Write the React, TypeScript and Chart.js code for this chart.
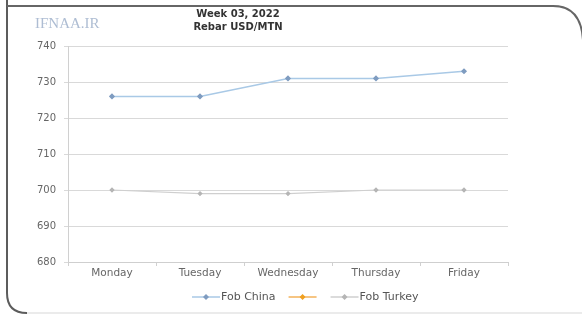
import React, { useEffect, useRef } from "react";
import { Chart, registerables } from "chart.js";

Chart.register(...registerables);

const categories = ["Monday", "Tuesday", "Wednesday", "Thursday", "Friday"];
const fobChina = [726, 726, 731, 731, 733];
const fobOther: (number | null)[] = [null, null, null, null, null];
const fobTurkey = [700, 699, 699, 700, 700];
const seriesNames = ["Fob China", "", "Fob Turkey"];
const titleLines = ["Week 03, 2022", "Rebar USD/MTN"];
const watermark = "IFNAA.IR";
const yMin = 680;
const yMax = 740;
const yStep = 10;

const decorPlugin = {
  id: "decor",
  afterDraw(chart: any) {
    const ctx = chart.ctx as CanvasRenderingContext2D;
    ctx.save();
    // watermark
    ctx.font = "15px 'Liberation Serif'";
    ctx.fillStyle = "#aebdd3";
    ctx.textAlign = "left";
    ctx.textBaseline = "middle";
    ctx.fillText(watermark, 35, 24);
    // title
    ctx.font = "bold 10px 'DejaVu Sans'";
    ctx.fillStyle = "#333333";
    ctx.textAlign = "center";
    ctx.fillText(titleLines[0], 238, 14);
    ctx.fillText(titleLines[1], 238, 27);
    // legend
    ctx.font = "11px 'DejaVu Sans'";
    ctx.textAlign = "left";
    const y = 297;
    let x = 192;
    chart.data.datasets.forEach((ds: any, i: number) => {
      ctx.strokeStyle = ds.borderColor;
      ctx.lineWidth = 1.5;
      ctx.beginPath();
      ctx.moveTo(x, y);
      ctx.lineTo(x + 28, y);
      ctx.stroke();
      ctx.fillStyle = ds.pointBackgroundColor;
      ctx.beginPath();
      const cx = x + 14;
      ctx.moveTo(cx, y - 3);
      ctx.lineTo(cx + 3, y);
      ctx.lineTo(cx, y + 3);
      ctx.lineTo(cx - 3, y);
      ctx.closePath();
      ctx.fill();
      x += 29;
      const label = seriesNames[i];
      if (label) {
        ctx.fillStyle = "#555555";
        ctx.fillText(label, x, y);
        x += ctx.measureText(label).width;
      }
      x += 13;
    });
    ctx.restore();
  },
};

export default function App() {
  const ref = useRef<HTMLCanvasElement>(null);
  useEffect(() => {
    const chart = new Chart(ref.current!, {
      type: "line",
      data: {
        labels: categories,
        datasets: [
          {
            label: seriesNames[0],
            data: fobChina,
            borderColor: "#a9c9e6",
            borderWidth: 1.5,
            pointBackgroundColor: "#7f9cc0",
            pointBorderColor: "#7f9cc0",
            pointRadius: 2,
            pointStyle: "rectRot",
          },
          {
            label: seriesNames[1],
            data: fobOther,
            borderColor: "#f3b25a",
            borderWidth: 1.5,
            pointBackgroundColor: "#f0a020",
            pointBorderColor: "#f0a020",
            pointRadius: 2,
            pointStyle: "rectRot",
          },
          {
            label: seriesNames[2],
            data: fobTurkey,
            borderColor: "#cfcfcf",
            borderWidth: 1.2,
            pointBackgroundColor: "#b5b5b5",
            pointBorderColor: "#b5b5b5",
            pointRadius: 1.8,
            pointStyle: "rectRot",
          },
        ],
      },
      options: {
        animation: false,
        responsive: false,
        maintainAspectRatio: false,
        layout: { padding: { left: 0, right: 74, top: 46, bottom: 35 } },
        plugins: {
          legend: { display: false },
          title: { display: false },
          tooltip: { enabled: false },
        },
        scales: {
          x: {
            offset: true,
            grid: {
              offset: true,
              drawOnChartArea: false,
              drawTicks: true,
              tickLength: 4,
              color: "#d0d0d0",
            },
            border: { color: "#cfcfcf" },
            ticks: {
              color: "#666666",
              font: { family: "'DejaVu Sans'", size: 10.5 },
              padding: 1,
              maxRotation: 0,
            },
            afterFit(scale: any) {
              scale.height = 20;
            },
          },
          y: {
            min: yMin,
            max: yMax,
            grid: { color: "#d9d9d9", tickLength: 4, lineWidth: 1 },
            border: { color: "#d0d0d0" },
            ticks: {
              stepSize: yStep,
              color: "#666666",
              font: { family: "'DejaVu Sans'", size: 10 },
              padding: 8,
            },
            afterFit(scale: any) {
              scale.width = 68;
            },
          },
        },
      },
      plugins: [decorPlugin],
    });
    return () => chart.destroy();
  }, []);

  return (
    <div
      style={{
        position: "absolute",
        left: 0,
        top: 0,
        width: 582,
        height: 317,
        background: "#ffffff",
        overflow: "hidden",
      }}
    >
      <svg
        width={582}
        height={317}
        style={{ position: "absolute", left: 0, top: 0 }}
      >
        <path d="M 25 313 L 582 313" stroke="#e4e4e4" strokeWidth={1.5} fill="none" />
        <path
          d="M 7 0 L 7 293 Q 7 313 27 313"
          stroke="#5c5c5c"
          strokeWidth={2}
          fill="none"
        />
        <path
          d="M 7 6 L 553 6 Q 581 6 583 40"
          stroke="#666666"
          strokeWidth={2}
          fill="none"
        />
      </svg>
      <canvas
        ref={ref}
        width={582}
        height={317}
        style={{ position: "absolute", left: 0, top: 0 }}
      />
    </div>
  );
}
